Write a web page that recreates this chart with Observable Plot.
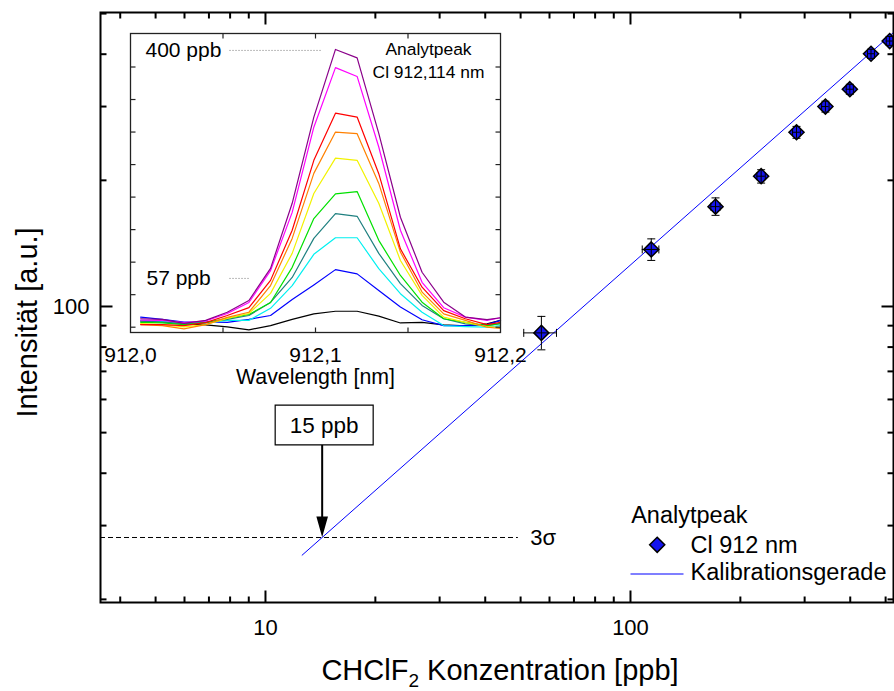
<!DOCTYPE html>
<html><head><meta charset="utf-8">
<script src="https://cdn.jsdelivr.net/npm/d3@7"></script>
<script src="https://cdn.jsdelivr.net/npm/@observablehq/plot@0.6"></script>
<style>
body{margin:0;background:#fff;}
#wrap{position:relative;width:894px;height:691px;overflow:hidden;}
#inset{position:absolute;left:100px;top:0;}
</style></head><body><div id="wrap"><div id="main"></div><div id="inset"></div></div>
<script>
// ---------- main calibration data ----------
const concentration = [57, 114, 171, 228, 285, 342, 399, 456, 513];
const intensity     = [86.5, 136.8, 173.1, 204.6, 260.5, 300, 330, 401, 430];
const concLow  = [51, 107.7, 166, 222, 278, 334, 390, 446, 502];
const concHigh = [62.7, 119.6, 176, 234, 292, 350, 408, 466, 524];
const intLow   = [78.8, 128.8, 165, 197, 252, 291, 321, 391, 420];
const intHigh  = [94.7, 145, 181.6, 212, 269, 309, 339, 411, 441];
const calibConc = [12.6, 526];
const calibInt  = [25.5, 451];
const threeSigma = 28.1;
const sigmaLineEnd = 49.3;
const lodConc = 14.3;
const lodLabel = "15 ppb";
const xTickLabels = [10, 100];
const xMinorTicks = [4,5,6,7,8,9,20,30,40,50,60,70,80,90,200,300,400,500];
const yTickLabels = [100];
const yMinorTicks = [20,30,40,50,60,70,80,90,200,300,400,500];
const xTitle = "CHClF2 Konzentration [ppb]";
const yTitle = "Intensität [a.u.]";
const legendTitle = "Analytpeak";
const legendPoints = "Cl 912 nm";
const legendLine = "Kalibrationsgerade";

// ---------- inset spectra ----------
const wavelength = [912.0055, 912.0172, 912.0289, 912.0406, 912.0523, 912.0640, 912.0757, 912.0874, 912.0991,
                    912.1108, 912.1225, 912.1342, 912.1459, 912.1576, 912.1693, 912.1810, 912.1927, 912.2000];
const specBlack   = [0.19, 0.16, 0.11, 0.07, 0.01, -0.08, 0.05, 0.24, 0.41, 0.49, 0.49, 0.34, 0.13, 0.15, 0.07, 0.04, 0.10, 0.21];
const specBlue    = [0.31, 0.24, 0.16, 0.16, 0.15, 0.24, 0.36, 0.85, 1.30, 1.77, 1.64, 1.13, 0.62, 0.23, 0.05, 0.05, 0.08, 0.21];
const specCyan    = [0.21, 0.18, 0.11, 0.13, 0.21, 0.21, 0.58, 1.28, 2.24, 2.75, 2.75, 1.80, 1.03, 0.46, 0.05, 0.02, 0.00, 0.05];
const specTeal    = [0.19, 0.16, 0.11, 0.14, 0.24, 0.36, 0.76, 1.53, 2.73, 3.49, 3.41, 2.27, 1.34, 0.67, 0.26, 0.10, 0.05, 0.11];
const specGreen   = [0.15, 0.13, 0.08, 0.14, 0.27, 0.39, 0.76, 1.84, 3.34, 4.10, 4.17, 2.67, 1.59, 0.77, 0.26, 0.15, 0.05, 0.12];
const specYellow  = [0.11, 0.08, 0.01, 0.08, 0.27, 0.42, 1.04, 2.27, 4.11, 5.20, 5.13, 3.81, 2.05, 0.98, 0.31, 0.15, 0.02, -0.01];
const specOrange  = [0.08, 0.05, -0.05, 0.08, 0.30, 0.46, 1.28, 2.73, 4.73, 6.00, 5.95, 4.42, 2.31, 1.08, 0.41, 0.21, 0.00, -0.04];
const specRed     = [0.08, 0.08, 0.05, 0.14, 0.36, 0.60, 1.44, 2.98, 5.13, 6.58, 6.46, 4.72, 2.41, 1.23, 0.51, 0.26, 0.08, 0.15];
const specMagenta = [0.22, 0.21, 0.14, 0.19, 0.42, 0.76, 1.74, 3.53, 6.15, 7.98, 7.71, 5.54, 2.98, 1.38, 0.60, 0.31, 0.21, 0.29];
const specPurple  = [0.26, 0.24, 0.12, 0.21, 0.46, 0.82, 1.81, 3.81, 6.46, 8.54, 8.28, 5.96, 3.38, 1.69, 0.77, 0.31, 0.23, 0.29];
const specColors  = ["#000000", "#0000ff", "#00f0f0", "#1f8080", "#00e000", "#f2f200", "#ff8000", "#ff0000", "#ff00ff", "#8a008a"];
const insetXLabels = [912.0, 912.1, 912.2];
const insetXTicks = [912.05, 912.1, 912.15];
const insetYTicks = [0, 1, 2, 3, 4, 5, 6, 7, 8];
const insetXTitle = "Wavelength [nm]";
const insetTitle1 = "Analytpeak";
const insetTitle2 = "Cl 912,114 nm";
const highLabel = "400 ppb", highLevel = 8.51, highDot = [912.0538, 912.1032];
const lowLabel = "57 ppb", lowLevel = 1.50, lowDot = [912.0538, 912.0645];

// ---------- helpers ----------
const font = "'Liberation Sans', Arial, Helvetica, sans-serif";
const seg = (x1, y1, x2, y2) => ({draw(c) { c.moveTo(x1, y1); c.lineTo(x2, y2); }});
const boxSym = {draw(c) { c.rect(-47, -132.3, 98, 39.6); }};
const arrowSym = {draw(c) {
  c.moveTo(0, -92.7); c.lineTo(0, -19);
  c.moveTo(-4.5, -20); c.lineTo(4.5, -20); c.lineTo(0, -4); c.closePath();
}};
const pts = concentration.map((c, i) => ({c, v: intensity[i], xl: concLow[i], xh: concHigh[i], yl: intLow[i], yh: intHigh[i]}));
const calib = calibConc.map((c, i) => ({c, v: calibInt[i]}));
const blue = "#1414ee";
const xDom = [3.532, 525.5];

const main = Plot.plot({
  width: 894, height: 691,
  marginLeft: 100, marginRight: 1, marginTop: 12, marginBottom: 89,
  style: {fontFamily: font, background: "white", overflow: "visible", color: "black"},
  x: {type: "log", domain: xDom, axis: null},
  y: {type: "log", domain: [19.66, 503], axis: null},
  marks: [
    Plot.ruleY([threeSigma], {y: d => d, x1: () => xDom[0], x2: () => sigmaLineEnd, stroke: "black", strokeWidth: 1, strokeDasharray: "5,3"}),
    Plot.text(["3σ"], {x: () => sigmaLineEnd, y: () => threeSigma, dx: 12, textAnchor: "start", fontSize: 22, text: d => d}),
    Plot.line(calib, {x: "c", y: "v", stroke: "#0000ff", strokeWidth: 1}),
    Plot.dot(pts, {x: "c", y: "v", symbol: "diamond2", r: 6.8, fill: blue, stroke: "black", strokeWidth: 1.5}),
    Plot.ruleX(pts, {x: "c", y1: "yl", y2: "yh", stroke: "black", strokeWidth: 1}),
    Plot.ruleY(pts, {y: "v", x1: "xl", x2: "xh", stroke: "black", strokeWidth: 1}),
    Plot.dot(pts, {x: "c", y: "yl", symbol: seg(-4, 0, 4, 0), stroke: "black", fill: "none", strokeWidth: 1}),
    Plot.dot(pts, {x: "c", y: "yh", symbol: seg(-4, 0, 4, 0), stroke: "black", fill: "none", strokeWidth: 1}),
    Plot.dot(pts, {x: "xl", y: "v", symbol: seg(0, -4, 0, 4), stroke: "black", fill: "none", strokeWidth: 1}),
    Plot.dot(pts, {x: "xh", y: "v", symbol: seg(0, -4, 0, 4), stroke: "black", fill: "none", strokeWidth: 1}),
    // LOD annotation
    Plot.dot([lodConc], {x: d => d, y: () => threeSigma, symbol: arrowSym, fill: "black", stroke: "black", strokeWidth: 2}),
    Plot.dot([lodConc], {x: d => d, y: () => threeSigma, symbol: boxSym, fill: "white", stroke: "black", strokeWidth: 1.2}),
    Plot.text([lodLabel], {x: () => lodConc, y: () => threeSigma, dx: 2, dy: -112, fontSize: 22.5, text: d => d}),
    // frame & ticks
    Plot.frame({stroke: "black", strokeWidth: 2}),
    Plot.dot(xTickLabels, {x: d => d, frameAnchor: "bottom", symbol: seg(0, 0, 0, -12), stroke: "black", fill: "none", strokeWidth: 2}),
    Plot.dot(xMinorTicks, {x: d => d, frameAnchor: "bottom", symbol: seg(0, 0, 0, -6), stroke: "black", fill: "none", strokeWidth: 2}),
    Plot.dot(xTickLabels, {x: d => d, frameAnchor: "top", symbol: seg(0, 0, 0, 12), stroke: "black", fill: "none", strokeWidth: 2}),
    Plot.dot(xMinorTicks, {x: d => d, frameAnchor: "top", symbol: seg(0, 0, 0, 6), stroke: "black", fill: "none", strokeWidth: 2}),
    Plot.dot(yTickLabels, {y: d => d, frameAnchor: "left", symbol: seg(0, 0, 12, 0), stroke: "black", fill: "none", strokeWidth: 2}),
    Plot.dot(yMinorTicks, {y: d => d, frameAnchor: "left", symbol: seg(0, 0, 6, 0), stroke: "black", fill: "none", strokeWidth: 2}),
    Plot.dot(yTickLabels, {y: d => d, frameAnchor: "right", symbol: seg(0, 0, -12, 0), stroke: "black", fill: "none", strokeWidth: 2}),
    Plot.dot(yMinorTicks, {y: d => d, frameAnchor: "right", symbol: seg(0, 0, -6, 0), stroke: "black", fill: "none", strokeWidth: 2}),
    Plot.text(xTickLabels, {x: d => d, frameAnchor: "bottom", dy: 25, fontSize: 22, textAnchor: "middle", lineAnchor: "middle", text: d => String(d)}),
    Plot.text(yTickLabels, {y: d => d, frameAnchor: "left", dx: -11, textAnchor: "end", fontSize: 22, lineAnchor: "middle", text: d => String(d)}),
    Plot.text([xTitle], {frameAnchor: "bottom", dx: 3, dy: 68, fontSize: 29, textAnchor: "middle", lineAnchor: "middle", text: d => d}),
    Plot.text([yTitle], {frameAnchor: "left", dx: -73, dy: 15, rotate: -90, fontSize: 29, textAnchor: "middle", lineAnchor: "middle", text: d => d}),
    // legend
    Plot.text([legendTitle], {frameAnchor: "bottom-right", dx: -262.3, dy: -87, textAnchor: "start", fontSize: 23.5, lineAnchor: "middle", text: d => d}),
    Plot.dot([0], {frameAnchor: "bottom-right", dx: -236.3, dy: -57.7, symbol: "diamond2", r: 6.8, fill: blue, stroke: "black", strokeWidth: 1.5}),
    Plot.text([legendPoints], {frameAnchor: "bottom-right", dx: -203, dy: -57.5, textAnchor: "start", fontSize: 23.5, lineAnchor: "middle", text: d => d}),
    Plot.dot([0], {frameAnchor: "bottom-right", dx: -236.5, dy: -28.5, symbol: seg(-26.5, 0, 26.5, 0), stroke: "#0000ff", fill: "none", strokeWidth: 1.2}),
    Plot.text([legendLine], {frameAnchor: "bottom-right", dx: -203, dy: -30, textAnchor: "start", fontSize: 23.5, lineAnchor: "middle", text: d => d})
  ]
});
document.getElementById("main").appendChild(main);
// subscript in x title
d3.select(main).selectAll("text").each(function() {
  if (this.textContent === xTitle) {
    const t = d3.select(this); t.text(null);
    t.append("tspan").text("CHClF");
    t.append("tspan").attr("font-size", "19px").attr("dy", 7).text("2");
    t.append("tspan").attr("dy", -7).text(" Konzentration [ppb]");
  }
});

// ---------- inset ----------
const spectra = [specBlack, specBlue, specCyan, specTeal, specGreen, specYellow, specOrange, specRed, specMagenta, specPurple];
const inset = Plot.plot({
  width: 430, height: 400,
  marginLeft: 30, marginRight: 30, marginTop: 33, marginBottom: 68,
  style: {fontFamily: font, background: "transparent", overflow: "visible", color: "black"},
  x: {domain: [912.0, 912.2], axis: null},
  y: {domain: [-0.163, 9.03], axis: null},
  marks: [
    ...spectra.map((s, k) => Plot.line(s.map((v, i) => ({w: wavelength[i], v})), {x: "w", y: "v", stroke: specColors[k], strokeWidth: 1.2})),
    Plot.frame({stroke: "#222", strokeWidth: 1.3}),
    Plot.dot(insetXTicks, {x: d => d, frameAnchor: "bottom", symbol: seg(0, 0, 0, -5), stroke: "#222", fill: "none", strokeWidth: 1.2}),
    Plot.dot(insetXTicks, {x: d => d, frameAnchor: "top", symbol: seg(0, 0, 0, 5), stroke: "#222", fill: "none", strokeWidth: 1.2}),
    Plot.dot(insetYTicks, {y: d => d, frameAnchor: "left", symbol: seg(0, 0, 5, 0), stroke: "#222", fill: "none", strokeWidth: 1.2}),
    Plot.dot(insetYTicks, {y: d => d, frameAnchor: "right", symbol: seg(0, 0, -5, 0), stroke: "#222", fill: "none", strokeWidth: 1.2}),
    Plot.text(insetXLabels, {x: d => d, frameAnchor: "bottom", dy: 23, fontSize: 21, textAnchor: "middle", lineAnchor: "middle", text: d => d.toFixed(1).replace(".", ",")}),
    Plot.text([insetXTitle], {frameAnchor: "bottom", dy: 45, fontSize: 21.3, textAnchor: "middle", lineAnchor: "middle", text: d => d}),
    Plot.ruleY([highLevel], {y: d => d, x1: () => highDot[0], x2: () => highDot[1], stroke: "#777", strokeWidth: 1, strokeDasharray: "1,2"}),
    Plot.ruleY([lowLevel], {y: d => d, x1: () => lowDot[0], x2: () => lowDot[1], stroke: "#777", strokeWidth: 1, strokeDasharray: "1,2"}),
    Plot.text([highLabel], {y: () => highLevel, frameAnchor: "left", dx: 15, textAnchor: "start", fontSize: 21, lineAnchor: "middle", text: d => d}),
    Plot.text([lowLabel], {y: () => lowLevel, frameAnchor: "left", dx: 16, textAnchor: "start", fontSize: 21, lineAnchor: "middle", text: d => d}),
    Plot.text([insetTitle1], {frameAnchor: "top-right", dx: -72, dy: 16, fontSize: 17.4, textAnchor: "middle", lineAnchor: "middle", text: d => d}),
    Plot.text([insetTitle2], {frameAnchor: "top-right", dx: -72, dy: 38.7, fontSize: 17.4, textAnchor: "middle", lineAnchor: "middle", text: d => d})
  ]
});
document.getElementById("inset").appendChild(inset);
</script></body></html>
